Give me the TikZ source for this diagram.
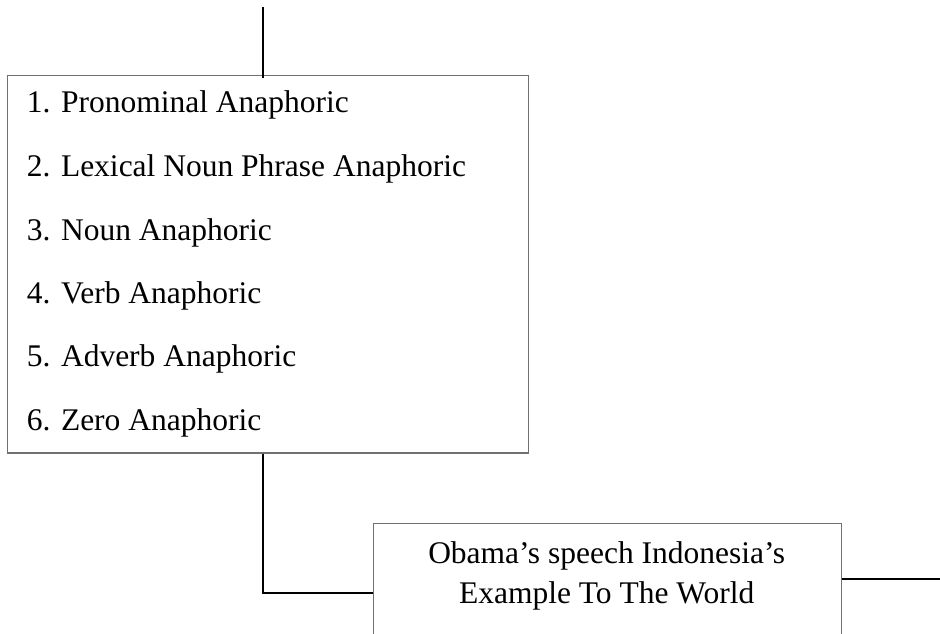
\documentclass[tikz,border=0pt]{standalone}
\usepackage{fontspec}
\setmainfont{Liberation Serif}
\begin{document}
\begin{tikzpicture}[x=1pt,y=-1pt,
  boxframe/.style={draw={rgb,255:red,112;green,112;blue,112}, line width=1.3pt, inner sep=0pt, anchor=north west},
  conn/.style={draw=black, line width=2pt},
  item/.style={anchor=base west, inner sep=0pt, font=\fontsize{31.5}{40}\selectfont},
  ctext/.style={anchor=base, inner sep=0pt, font=\fontsize{31.5}{40}\selectfont}]
\useasboundingbox (0,0) rectangle (940,634);
\clip (0,0) rectangle (940,634);
% boxes
\node[boxframe, minimum width=521pt, minimum height=377.6pt] (b1) at (6.7,74.7) {};
\node[boxframe, minimum width=468pt, minimum height=200pt] (b2) at (372.7,522.7) {};
% list items
\node[item] (i1) at (26.7,113) {1. Pronominal Anaphoric};
\node[item] (i2) at (26.7,176.5) {2. Lexical Noun Phrase Anaphoric};
\node[item] (i3) at (26.7,240) {3. Noun Anaphoric};
\node[item] (i4) at (26.7,303) {4. Verb Anaphoric};
\node[item] (i5) at (26.7,366.5) {5. Adverb Anaphoric};
\node[item] (i6) at (26.7,430) {6. Zero Anaphoric};
% second box text
\node[ctext] (t1) at (606.7,563) {Obama’s speech Indonesia’s};
\node[ctext] (t2) at (606.7,603) {Example To The World};
% connectors
\coordinate (topend) at (262.7,7);
\coordinate (elbow) at (262.7,592.7);
\coordinate (rend) at (940,579);
\draw[conn] (topend) -- ([yshift=-3pt]topend |- b1.north);
\draw[conn] (b1.south -| elbow) -- (elbow) -- (elbow -| b2.west);
\draw[conn] (rend -| b2.east) -- (rend);
\end{tikzpicture}
\end{document}
